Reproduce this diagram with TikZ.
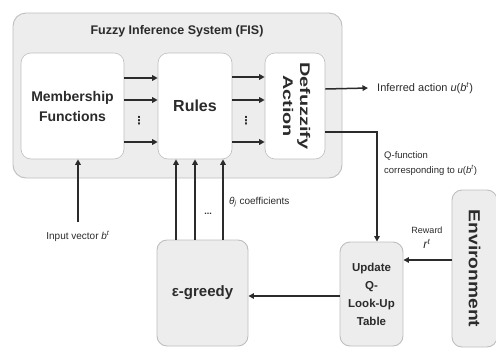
\documentclass[tikz,border=0pt]{standalone}
\usepackage{fontspec}
\usepackage{graphicx}
\setmainfont{Liberation Sans}
\newfontfamily\symfont{DejaVu Sans}
\usetikzlibrary{arrows.meta}
\definecolor{panelgray}{HTML}{EDEDED}
\definecolor{edgegray}{HTML}{BEBEBE}
\definecolor{inkgray}{HTML}{2B2B2B}

\begin{document}
\begin{tikzpicture}[x=1pt,y=-1pt,
  panel/.style={draw=edgegray,fill=panelgray,rounded corners=13pt,line width=0.9pt},
  block/.style={draw=edgegray,fill=white,rounded corners=10pt,line width=0.6pt,inner sep=0pt,align=center,text=inkgray},
  gblock/.style={draw=edgegray,fill=panelgray,rounded corners=10pt,line width=0.9pt,inner sep=0pt,align=center,text=inkgray},
  arr/.style={draw=inkgray,line width=1.5pt,-{Triangle[length=5.5pt,width=5.5pt]}},
  lbl/.style={inner sep=0pt,text=inkgray,font=\fontsize{10}{12}\selectfont},
  vdot/.style={inner sep=0pt,text=inkgray,font=\symfont\bfseries\fontsize{11}{11}\selectfont}]
  \useasboundingbox (0,0) rectangle (496,349);
  \draw[panel] (13,13) rectangle (342,178);
  \node[text=inkgray,font=\bfseries\fontsize{12.5}{14}\selectfont] (fis) at (177,31) {Fuzzy Inference System (FIS)};
  \node[block,minimum width=103pt,minimum height=106pt,font=\bfseries\fontsize{14}{20}\selectfont] (mf) at (72.5,106) {Membership\\Functions};
  \node[block,minimum width=74pt,minimum height=106pt,font=\bfseries\fontsize{16}{18}\selectfont] (rules) at (195,106) {Rules};
  \node[block,minimum width=60pt,minimum height=106pt,font=\bfseries\fontsize{14}{17}\selectfont] (defz) at (295,106)
    {\rotatebox{-90}{\begin{tabular}{@{}c@{}}\scalebox{1.42}[1]{Defuzzify}\\\scalebox{1.42}[1]{Action}\end{tabular}}};
  \foreach \y in {78,100,142} \draw[arr] (mf.east |- 0,\y) -- (rules.west |- 0,\y);
  \foreach \y in {77,100,142} \draw[arr] (rules.east |- 0,\y) -- (defz.west |- 0,\y);
  \node[vdot] (dotsa) at (139,121) {⋮};
  \node[vdot] (dotsb) at (246,121) {⋮};
  \node[gblock,minimum width=91pt,minimum height=106pt,font=\bfseries\fontsize{15}{18}\selectfont] (eps) at (202.5,293) {ε-greedy};
  \node[gblock,minimum width=63pt,minimum height=104pt,font=\bfseries\fontsize{11.5}{18}\selectfont] (upd) at (371.5,294) {Update\\Q-\\Look-Up\\Table};
  \node[gblock,minimum width=45pt,minimum height=157pt,font=\bfseries\fontsize{16}{18}\selectfont] (env) at (474.5,268.5)
    {\rotatebox{-90}{\scalebox{1.2}[1]{Environment}}};
  \node[lbl] (inp) at (78,236) {Input vector \textit{b}\textsuperscript{\textit{t}}};
  \draw[arr,shorten <=9pt] (inp.north) -- (inp.north |- mf.south);
  \foreach \x in {176,195,223} \draw[arr] (eps.north -| \x,0) -- (rules.south -| \x,0);
  \node[text=inkgray,font=\bfseries\fontsize{9}{9}\selectfont] (gap) at (208,214) {...};
  \node[lbl,anchor=west] (theta) at (229,202) {\textit{θ}\textsubscript{\textit{j}} coefficients};
  \node[lbl,anchor=west,font=\fontsize{11}{12}\selectfont] (act) at (377,88) {Inferred action \textit{u}(\textit{b}\textsuperscript{\textit{t}})};
  \draw[arr] (defz.east |- 0,89) -- ([xshift=-9pt]act.west);
  \draw[arr] (defz.east |- 0,132) -| (upd.north -| 377,0);
  \node[lbl,anchor=north west,align=left,font=\fontsize{9.5}{15}\selectfont] (qfun) at (384,151) {Q-function\\corresponding to \textit{u}(\textit{b}\textsuperscript{\textit{t}})};
  \draw[arr] (upd.west |- 0,296) -- (eps.east |- 0,296);
  \draw[arr] (env.west |- 0,260) -- (upd.east |- 0,260);
  \node[lbl,align=center,font=\fontsize{9}{10}\selectfont] (rew) at (427,238) {Reward\\[5pt]{\fontsize{12}{12}\selectfont\textit{r}\textsuperscript{\textit{t}}}};
\end{tikzpicture}
\end{document}
